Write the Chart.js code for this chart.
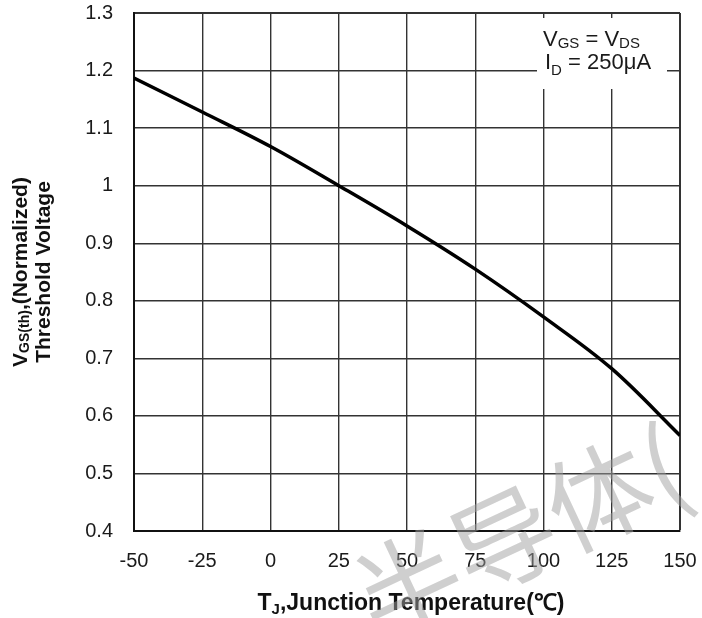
<!DOCTYPE html>
<html>
<head>
<meta charset="utf-8">
<script src="https://cdn.jsdelivr.net/npm/chart.js@4.4.1/dist/chart.umd.min.js"></script>
<style>
  body { margin: 0; background: #fff; }
  canvas { display: block; }
</style>
</head>
<body>
<canvas id="grafico" width="702" height="618"></canvas>
<script>
// Umbral normalizado VGS(th) frente a temperatura de unión
const temperaturas = [-50, -25, 0, 25, 50, 75, 100, 125, 150];
const vgsNorm = [1.187, 1.128, 1.068, 1.000, 0.930, 0.855, 0.772, 0.682, 0.566];
const ticksX = [-50, -25, 0, 25, 50, 75, 100, 125, 150];
const ticksY = [0.4, 0.5, 0.6, 0.7, 0.8, 0.9, 1, 1.1, 1.2, 1.3];
const marcaAgua = '半导体(';

const FUENTE = '"Liberation Sans", Arial, sans-serif';

// dibuja un texto formado por trozos (para subíndices)
function textoPartes(ctx, partes, x, y, align) {
  let total = 0;
  partes.forEach(p => {
    ctx.font = (p.bold ? 'bold ' : '') + p.size + 'px ' + FUENTE;
    p.w = ctx.measureText(p.t).width;
    total += p.w;
  });
  let cx = align === 'center' ? x - total / 2 : x;
  ctx.textAlign = 'left';
  partes.forEach(p => {
    ctx.font = (p.bold ? 'bold ' : '') + p.size + 'px ' + FUENTE;
    ctx.fillText(p.t, cx, y + (p.dy || 0));
    cx += p.w;
  });
}

// sin márgenes extra por las etiquetas: el área la fija layout.padding
function sinPadding(s) {
  s.paddingTop = 0;
  s.paddingBottom = 0;
  s.paddingLeft = 0;
  s.paddingRight = 0;
}

const extras = {
  id: 'extras',
  beforeDatasetsDraw(chart) {
    const ctx = chart.ctx;
    // recuadro de condiciones de prueba
    ctx.save();
    ctx.fillStyle = '#fff';
    ctx.fillRect(537, 18, 130, 71);
    ctx.fillStyle = '#1a1a1a';
    ctx.textBaseline = 'alphabetic';
    textoPartes(ctx, [
      {t: 'V', size: 22}, {t: 'GS', size: 15, dy: 2},
      {t: ' = V', size: 22}, {t: 'DS', size: 15, dy: 2}
    ], 543, 46, 'left');
    textoPartes(ctx, [
      {t: 'I', size: 22}, {t: 'D', size: 15, dy: 6},
      {t: ' = 250μA', size: 22}
    ], 545, 69, 'left');
    ctx.restore();
  },
  afterDraw(chart) {
    const ctx = chart.ctx;
    const area = chart.chartArea;
    ctx.save();
    ctx.fillStyle = '#111';
    ctx.textBaseline = 'middle';
    // título eje Y (dos líneas, girado)
    ctx.translate(0, (area.top + area.bottom) / 2);
    ctx.rotate(-Math.PI / 2);
    textoPartes(ctx, [
      {t: 'V', size: 21, bold: true}, {t: 'GS(th)', size: 14, bold: true, dy: 4},
      {t: ',(Normalized)', size: 21, bold: true}
    ], 0, 21, 'center');
    textoPartes(ctx, [{t: 'Threshold Voltage', size: 21, bold: true}], 0, 44, 'center');
    ctx.restore();

    // título eje X
    ctx.save();
    ctx.fillStyle = '#111';
    ctx.textBaseline = 'alphabetic';
    textoPartes(ctx, [
      {t: 'T', size: 23, bold: true}, {t: 'J', size: 15, bold: true, dy: 4},
      {t: ',Junction Temperature(℃)', size: 23, bold: true}
    ], 411, 610, 'center');
    ctx.restore();

    // marca de agua
    ctx.save();
    ctx.translate(503, 540);
    ctx.rotate(-25 * Math.PI / 180);
    ctx.font = '105px "Noto Sans CJK SC"';
    ctx.fillStyle = 'rgba(160,160,160,0.5)';
    ctx.textAlign = 'left';
    ctx.textBaseline = 'middle';
    ctx.fillText(marcaAgua, -157, 0);
    ctx.restore();
  }
};

const ctx = document.getElementById('grafico').getContext('2d');
const chart = new Chart(ctx, {
  type: 'line',
  data: {
    datasets: [{
      data: temperaturas.map((t, i) => ({x: t, y: vgsNorm[i]})),
      borderColor: '#000',
      borderWidth: 3.5,
      pointRadius: 0,
      tension: 0.35,
      fill: false
    }]
  },
  options: {
    responsive: false,
    devicePixelRatio: 1,
    animation: false,
    layout: { padding: { top: 13, right: 22, left: 0, bottom: 0 } },
    plugins: { legend: { display: false }, tooltip: { enabled: false } },
    scales: {
      x: {
        type: 'linear',
        min: -50,
        max: 150,
        afterBuildTicks: s => { s.ticks = ticksX.map(v => ({value: v})); },
        afterFit: s => { s.height = 87; sinPadding(s); },
        grid: {
          color: '#333',
          lineWidth: c => (c.tick && c.tick.value === 150 ? 2 : 1.4),
          drawTicks: false
        },
        border: { color: '#111', width: 2 },
        ticks: {
          padding: 18,
          color: '#1a1a1a',
          font: { family: FUENTE, size: 20 },
          maxRotation: 0
        }
      },
      y: {
        min: 0.4,
        max: 1.3,
        afterBuildTicks: s => { s.ticks = ticksY.map(v => ({value: v})); },
        afterFit: s => { s.width = 134; sinPadding(s); },
        grid: {
          color: '#333',
          lineWidth: c => (c.tick && c.tick.value === 1.3 ? 2 : 1.4),
          drawTicks: false
        },
        border: { color: '#111', width: 2 },
        ticks: {
          padding: 21,
          color: '#1a1a1a',
          font: { family: FUENTE, size: 20 },
          callback: v => String(v)
        }
      }
    }
  },
  plugins: [extras]
});
</script>
</body>
</html>
